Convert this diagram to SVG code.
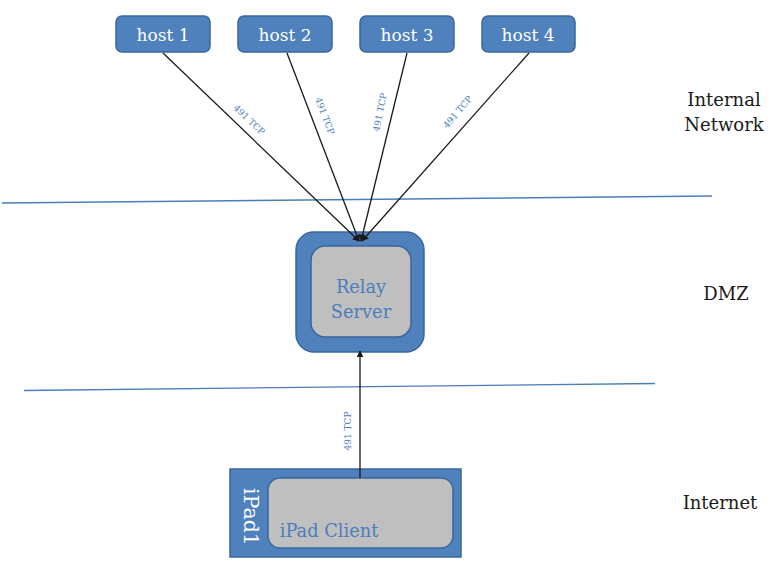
<svg xmlns="http://www.w3.org/2000/svg" width="770" height="577" viewBox="0 0 770 577">
<defs>
<style>
.blue{fill:#4f81bd;stroke:#3a679c;stroke-width:1.5}
.gray{fill:#bfbfbf;stroke:#3a679c;stroke-width:1.5}
.ht{font-family:"DejaVu Serif","Liberation Serif",serif;font-size:17px;fill:#ffffff;text-anchor:middle}
.bt{font-family:"DejaVu Serif","Liberation Serif",serif;font-size:17.8px;fill:#4a7ebb;text-anchor:middle}
.lt{font-family:"DejaVu Serif","Liberation Serif",serif;font-size:9px;fill:#4a7ebb;text-anchor:middle}
.rt{font-family:"DejaVu Serif","Liberation Serif",serif;font-size:18px;fill:#1a1a1a;text-anchor:middle}
.conn{stroke:#1a1a1a;stroke-width:1.3;fill:none}
.zone{stroke:#4a7ebb;stroke-width:1.3;fill:none}
</style>
<marker id="arr" viewBox="0 0 10 10" refX="9" refY="5" markerWidth="7" markerHeight="7" orient="auto" markerUnits="userSpaceOnUse">
<path d="M0,0 L10,5 L0,10 z" fill="#1a1a1a"/>
</marker>
</defs>
<rect width="770" height="577" fill="#ffffff"/>
<g id="zones">
<line class="zone" x1="2" y1="203" x2="712" y2="196"/>
<line class="zone" x1="24" y1="390.5" x2="655" y2="383.5"/>
</g>
<g id="host1"><rect class="blue" x="116" y="16" width="94" height="36" rx="6"/><text class="ht" x="163" y="41">host 1</text></g>
<g id="host2"><rect class="blue" x="238" y="16" width="94" height="36" rx="6"/><text class="ht" x="285" y="41">host 2</text></g>
<g id="host3"><rect class="blue" x="360" y="16" width="94" height="36" rx="6"/><text class="ht" x="407" y="41">host 3</text></g>
<g id="host4"><rect class="blue" x="482" y="16" width="93" height="36" rx="6"/><text class="ht" x="528" y="41">host 4</text></g>
<g id="relay">
<rect class="blue" x="296" y="232" width="128" height="120" rx="18"/>
<rect class="gray" x="311" y="246" width="100" height="91" rx="14"/>
<text class="bt" x="361" y="293">Relay</text>
<text class="bt" x="361" y="318">Server</text>
</g>
<g id="ipad">
<rect class="blue" x="230" y="469" width="231" height="88"/>
<rect class="gray" x="268" y="478" width="185" height="70" rx="12"/>
<text class="ht" style="font-size:20.5px" transform="translate(244,517) rotate(90)">iPad1</text>
<text class="bt" x="329" y="537">iPad Client</text>
</g>
<g id="connectors">
<line class="conn" x1="163" y1="53" x2="359" y2="241" marker-end="url(#arr)"/>
<line class="conn" x1="287" y1="53" x2="359" y2="241" marker-end="url(#arr)"/>
<line class="conn" x1="407" y1="53" x2="361" y2="241" marker-end="url(#arr)"/>
<line class="conn" x1="529" y1="53" x2="362" y2="241" marker-end="url(#arr)"/>
<line class="conn" x1="360" y1="478" x2="360" y2="351" marker-end="url(#arr)"/>
<text class="lt" transform="translate(247,122) rotate(44)">491 TCP</text>
<text class="lt" transform="translate(322,117) rotate(69)">491 TCP</text>
<text class="lt" transform="translate(383,113) rotate(-78)">491 TCP</text>
<text class="lt" transform="translate(460,114) rotate(-49)">491 TCP</text>
<text class="lt" transform="translate(351,431) rotate(-90)">491 TCP</text>
</g>
<g id="labels">
<text class="rt" x="724" y="106">Internal</text>
<text class="rt" x="724" y="131">Network</text>
<text class="rt" x="726" y="300">DMZ</text>
<text class="rt" x="720" y="509">Internet</text>
</g>
</svg>
